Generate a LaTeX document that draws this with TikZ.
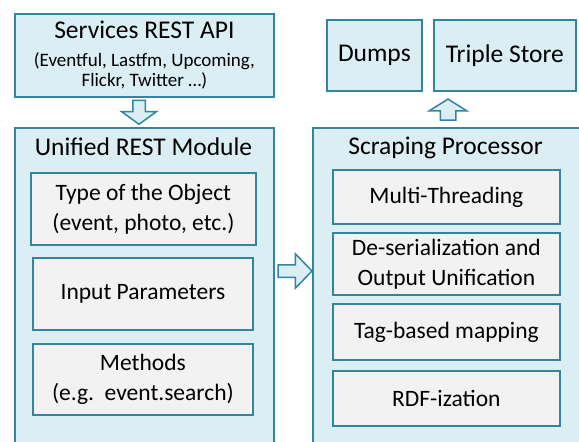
\documentclass[tikz,border=0pt]{standalone}
\usepackage{fontspec}
\setmainfont{Carlito}
\usetikzlibrary{shapes, positioning}

\definecolor{tealline}{HTML}{31859C}
\definecolor{paleblue}{HTML}{DAEEF3}
\definecolor{palegray}{HTML}{F2F2F2}

\newcommand{\bigfont}{\fontsize{25.5}{29}\selectfont}
\newcommand{\boxfont}{\fontsize{23.5}{30}\selectfont}
\newcommand{\smallfont}{\fontsize{19}{20.5}\selectfont}

\begin{document}
\begin{tikzpicture}[x=1pt, y=-1pt, line width=1.8pt,
                    frame/.style= {draw=tealline,
                      fill=paleblue,
                      anchor=north west,
                      inner sep=0pt,
                      align=center,
                      font=\bigfont},
                    part/.style= {draw=tealline,
                      fill=palegray,
                      anchor=north west,
                      inner sep=0pt,
                      align=center,
                      font=\boxfont},
                    flow/.style= {single arrow,
                      draw=tealline,
                      fill=paleblue,
                      line width=1.5pt,
                      inner sep=5.5pt,
                      single arrow head extend=11pt}]

  \useasboundingbox (0,0) rectangle (579,442);
  \clip (0,0) rectangle (579,442);

  % sources and sinks
  \node[frame, font=\smallfont, minimum width=259pt, minimum height=83pt] (api) at (14,13)
    {{\bigfont Services REST API}\\[7pt]
     (Eventful, Lastfm, Upcoming,\\Flickr, Twitter …)};
  \node[frame, minimum width=95pt, minimum height=71pt] (dumps) at (326,19) {Dumps};
  \node[frame, minimum width=142pt, minimum height=71pt] (store) at (433,19) {Triple Store};

  % the two modules, running off the page
  \node[frame, minimum width=259pt, minimum height=340pt] (rest) at (14,127) {};
  \node (resttitle) [font=\bigfont] at (143.5,147) {Unified REST Module};
  \node[frame, minimum width=300pt, minimum height=340pt] (scraper) at (312,127) {};
  \node (scrapertitle) [font=\bigfont] at (445.5,148) {Scraping Processor};

  % REST module parts
  \node[part, minimum width=225pt, minimum height=72pt] (object) at (30,172)
    {Type of the Object\\(event, photo, etc.)};
  \node[part, minimum width=220pt, minimum height=72pt] (params) at (32,257)
    {Input Parameters};
  \node[part, minimum width=220pt, minimum height=71pt] (methods) at (32,343)
    {Methods\\(e.g.\ \ event.search)};

  % scraping processor parts
  \node[part, minimum width=227pt, minimum height=54pt] (threads) at (332,169)
    {Multi-Threading};
  \node[part, minimum width=227pt, minimum height=62pt] (deser) at (332,232)
    {De-serialization and\\Output Unification};
  \node[part, minimum width=227pt, minimum height=56pt] (tags) at (332,303)
    {Tag-based mapping};
  \node[part, minimum width=227pt, minimum height=55pt] (rdf) at (332,370)
    {RDF-ization};

  % block arrows between the stages
  \node[flow, shape border rotate=270, single arrow tip angle=108,
        minimum height=24pt, minimum width=33pt] (down) at (139,110) {};
  \node[flow, single arrow tip angle=92,
        minimum height=34pt, minimum width=33pt] (right) at (292,271) {};
  \node[flow, shape border rotate=90, single arrow tip angle=116, inner sep=7pt,
        minimum height=21pt, minimum width=37pt] (up) at (448,112) {};
\end{tikzpicture}
\end{document}
